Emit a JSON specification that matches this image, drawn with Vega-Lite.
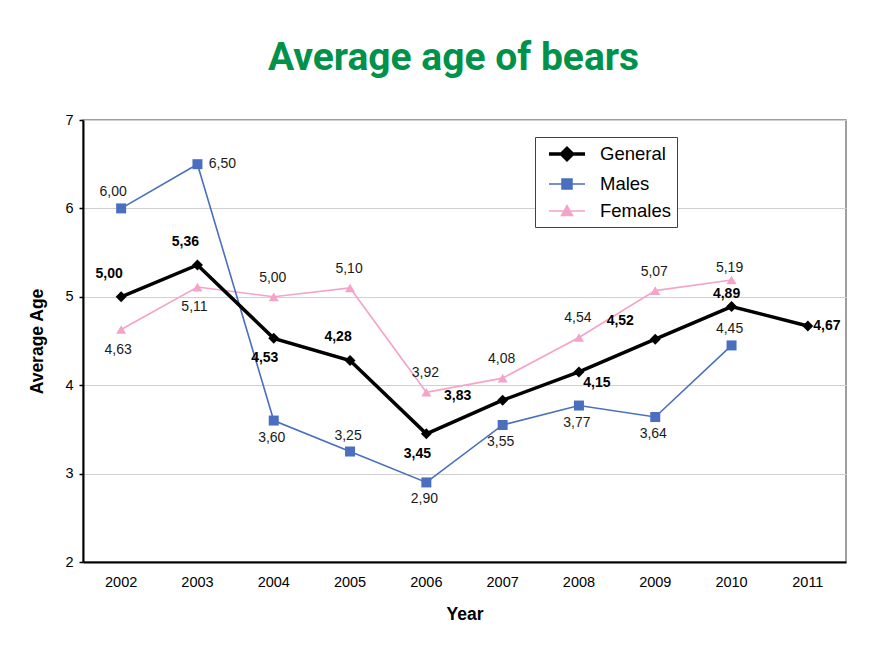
{
  "$schema": "https://vega.github.io/schema/vega-lite/v6.json",
  "width": 763,
  "height": 442,
  "autosize": {"type": "none"},
  "padding": {"left": 83, "top": 120, "right": 47, "bottom": 88},
  "background": "white",
  "config": {
    "locale": {"number": {"decimal": ",", "thousands": ".", "grouping": [3], "currency": ["", "€"]}},
    "view": {"stroke": "#808080", "strokeWidth": 1.5},
    "font": "Liberation Sans"
  },
  "title": {
    "text": "Average age of bears",
    "font": "Roboto",
    "fontSize": 39,
    "fontWeight": "bold",
    "color": "#00914a",
    "anchor": "middle",
    "frame": "group",
    "baseline": "alphabetic",
    "offset": 3,
    "dx": -11
  },
  "data": {
    "values": [
      {"year": 2002, "series": "General", "value": 5.00},
      {"year": 2003, "series": "General", "value": 5.36},
      {"year": 2004, "series": "General", "value": 4.53},
      {"year": 2005, "series": "General", "value": 4.28},
      {"year": 2006, "series": "General", "value": 3.45},
      {"year": 2007, "series": "General", "value": 3.83},
      {"year": 2008, "series": "General", "value": 4.15},
      {"year": 2009, "series": "General", "value": 4.52},
      {"year": 2010, "series": "General", "value": 4.89},
      {"year": 2011, "series": "General", "value": 4.67},
      {"year": 2002, "series": "Males", "value": 6.00},
      {"year": 2003, "series": "Males", "value": 6.50},
      {"year": 2004, "series": "Males", "value": 3.60},
      {"year": 2005, "series": "Males", "value": 3.25},
      {"year": 2006, "series": "Males", "value": 2.90},
      {"year": 2007, "series": "Males", "value": 3.55},
      {"year": 2008, "series": "Males", "value": 3.77},
      {"year": 2009, "series": "Males", "value": 3.64},
      {"year": 2010, "series": "Males", "value": 4.45},
      {"year": 2002, "series": "Females", "value": 4.63},
      {"year": 2003, "series": "Females", "value": 5.11},
      {"year": 2004, "series": "Females", "value": 5.00},
      {"year": 2005, "series": "Females", "value": 5.10},
      {"year": 2006, "series": "Females", "value": 3.92},
      {"year": 2007, "series": "Females", "value": 4.08},
      {"year": 2008, "series": "Females", "value": 4.54},
      {"year": 2009, "series": "Females", "value": 5.07},
      {"year": 2010, "series": "Females", "value": 5.19}
    ]
  },
  "encoding": {
    "x": {
      "field": "year", "type": "ordinal",
      "scale": {"type": "band", "paddingInner": 0, "paddingOuter": 0},
      "axis": {
        "title": "Year", "titleFontSize": 17.5, "titleFontWeight": "bold", "titleColor": "black", "titlePadding": 17,
        "labelAngle": 0, "labelFontSize": 14.5, "labelColor": "black", "labelPadding": 13,
        "ticks": false, "domainColor": "black", "domainWidth": 2, "grid": false
      }
    },
    "y": {
      "field": "value", "type": "quantitative",
      "scale": {"domain": [2, 7], "nice": false, "zero": false},
      "axis": {
        "title": "Average Age", "titleFontSize": 17.5, "titleFontWeight": "bold", "titleColor": "black", "titlePadding": 18,
        "values": [2, 3, 4, 5, 6, 7], "format": "d",
        "labelFontSize": 14.5, "labelColor": "black", "labelPadding": 6,
        "tickSize": 4, "tickColor": "black", "tickWidth": 1.5,
        "domainColor": "black", "domainWidth": 2,
        "gridColor": "#d0d0d0", "gridWidth": 1
      }
    }
  },
  "layer": [
    {
      "transform": [{"filter": {"field": "series", "equal": "Females"}}],
      "mark": {"type": "line", "color": "#f5a3c9", "strokeWidth": 1.6},
      "encoding": {}
    },
    {
      "transform": [{"filter": {"field": "series", "equal": "Males"}}],
      "mark": {"type": "line", "color": "#4a6fbe", "strokeWidth": 1.6},
      "encoding": {}
    },
    {
      "transform": [{"filter": {"field": "series", "equal": "General"}}],
      "mark": {"type": "line", "color": "#000000", "strokeWidth": 3.5},
      "encoding": {}
    },
    {
      "transform": [{"filter": {"field": "series", "equal": "General"}}],
      "mark": {"type": "point", "shape": "diamond", "filled": true, "color": "#000000", "size": 120, "opacity": 1}
    },
    {
      "transform": [{"filter": {"field": "series", "equal": "Males"}}],
      "mark": {"type": "point", "shape": "square", "filled": true, "color": "#4a6fbe", "size": 100, "opacity": 1}
    },
    {
      "transform": [{"filter": {"field": "series", "equal": "Females"}}],
      "mark": {"type": "point", "shape": "triangle-up", "filled": true, "color": "#f5a3c9", "size": 100, "opacity": 1}
    },
    {
      "transform": [{"filter": "datum.series == 'General' && indexof([2002, 2003, 2005], datum.year) >= 0"}],
      "mark": {"type": "text", "fontWeight": "bold", "fontSize": 14, "color": "black", "dx": -12, "dy": -23},
      "encoding": {"text": {"field": "value", "type": "quantitative", "format": ".2f"}}
    },
    {
      "transform": [{"filter": "datum.series == 'General' && indexof([2004, 2006], datum.year) >= 0"}],
      "mark": {"type": "text", "fontWeight": "bold", "fontSize": 14, "color": "black", "dx": -9, "dy": 20},
      "encoding": {"text": {"field": "value", "type": "quantitative", "format": ".2f"}}
    },
    {
      "transform": [{"filter": "datum.series == 'General' && datum.year == 2007"}],
      "mark": {"type": "text", "fontWeight": "bold", "fontSize": 14, "color": "black", "dx": -45, "dy": -4},
      "encoding": {"text": {"field": "value", "type": "quantitative", "format": ".2f"}}
    },
    {
      "transform": [{"filter": "datum.series == 'General' && datum.year == 2009"}],
      "mark": {"type": "text", "fontWeight": "bold", "fontSize": 14, "color": "black", "dx": -35, "dy": -18},
      "encoding": {"text": {"field": "value", "type": "quantitative", "format": ".2f"}}
    },
    {
      "transform": [{"filter": "datum.series == 'General' && datum.year == 2008"}],
      "mark": {"type": "text", "fontWeight": "bold", "fontSize": 14, "color": "black", "dx": 18, "dy": 11},
      "encoding": {"text": {"field": "value", "type": "quantitative", "format": ".2f"}}
    },
    {
      "transform": [{"filter": "datum.series == 'General' && datum.year == 2010"}],
      "mark": {"type": "text", "fontWeight": "bold", "fontSize": 14, "color": "black", "dx": -5, "dy": -13},
      "encoding": {"text": {"field": "value", "type": "quantitative", "format": ".2f"}}
    },
    {
      "transform": [{"filter": "datum.series == 'General' && datum.year == 2011"}],
      "mark": {"type": "text", "fontWeight": "bold", "fontSize": 14, "color": "black", "dx": 19, "dy": 0},
      "encoding": {"text": {"field": "value", "type": "quantitative", "format": ".2f"}}
    },
    {
      "transform": [{"filter": "datum.series == 'Males' && datum.year == 2002"}],
      "mark": {"type": "text", "fontSize": 14, "color": "#1a1a1a", "dx": -8, "dy": -16},
      "encoding": {"text": {"field": "value", "type": "quantitative", "format": ".2f"}}
    },
    {
      "transform": [{"filter": "datum.series == 'Males' && datum.year == 2003"}],
      "mark": {"type": "text", "fontSize": 14, "color": "#1a1a1a", "dx": 25, "dy": 0},
      "encoding": {"text": {"field": "value", "type": "quantitative", "format": ".2f"}}
    },
    {
      "transform": [{"filter": "datum.series == 'Males' && indexof([2004, 2006, 2007, 2008, 2009], datum.year) >= 0"}],
      "mark": {"type": "text", "fontSize": 14, "color": "#1a1a1a", "dx": -2, "dy": 17},
      "encoding": {"text": {"field": "value", "type": "quantitative", "format": ".2f"}}
    },
    {
      "transform": [{"filter": "datum.series == 'Males' && indexof([2005, 2010], datum.year) >= 0"}],
      "mark": {"type": "text", "fontSize": 14, "color": "#1a1a1a", "dx": -2, "dy": -16},
      "encoding": {"text": {"field": "value", "type": "quantitative", "format": ".2f"}}
    },
    {
      "transform": [{"filter": "datum.series == 'Females' && indexof([2002, 2003], datum.year) >= 0"}],
      "mark": {"type": "text", "fontSize": 14, "color": "#1a1a1a", "dx": -3, "dy": 20},
      "encoding": {"text": {"field": "value", "type": "quantitative", "format": ".2f"}}
    },
    {
      "transform": [{"filter": "datum.series == 'Females' && indexof([2004, 2005, 2006, 2007, 2008, 2009], datum.year) >= 0"}],
      "mark": {"type": "text", "fontSize": 14, "color": "#1a1a1a", "dx": -1, "dy": -19},
      "encoding": {"text": {"field": "value", "type": "quantitative", "format": ".2f"}}
    },
    {
      "transform": [{"filter": "datum.series == 'Females' && datum.year == 2010"}],
      "mark": {"type": "text", "fontSize": 14, "color": "#1a1a1a", "dx": -2, "dy": -12},
      "encoding": {"text": {"field": "value", "type": "quantitative", "format": ".2f"}}
    },
    {
      "mark": {"type": "point", "filled": true, "size": 324, "opacity": 0},
      "encoding": {
        "fill": {
          "field": "series", "type": "nominal",
          "scale": {"domain": ["General", "Males", "Females"], "range": ["#000000", "#4a6fbe", "#f5a3c9"]}
        },
        "stroke": {
          "field": "series", "type": "nominal",
          "scale": {"domain": ["General", "Males", "Females"], "range": ["#000000", "#4a6fbe", "#f5a3c9"]}
        },
        "strokeWidth": {
          "field": "series", "type": "nominal",
          "scale": {"type": "ordinal", "domain": ["General", "Males", "Females"], "range": [3.5, 1.6, 1.6]}
        },
        "shape": {
          "field": "series", "type": "nominal",
          "scale": {
            "domain": ["General", "Males", "Females"],
            "range": [
              "M-2,0L2,0M0,-0.62L0.62,0L0,0.62L-0.62,0Z",
              "M-2,0L2,0M-0.55,-0.55L0.55,-0.55L0.55,0.55L-0.55,0.55Z",
              "M-2,0L2,0M0,-0.6L0.6,0.5L-0.6,0.5Z"
            ]
          },
          "legend": {
            "title": null,
            "orient": "none",
            "legendX": 452,
            "legendY": 17,
            "symbolSize": 324,
            "symbolOpacity": 1,
            "symbolOffset": 15,
            "labelFontSize": 18.5,
            "labelColor": "black",
            "labelFont": "Liberation Sans",
            "labelOffset": 22,
            "rowPadding": 7,
            "padding": 6,
            "strokeColor": "#404040",
            "fillColor": "white",
            "cornerRadius": 0
          }
        }
      }
    }
  ]
}
